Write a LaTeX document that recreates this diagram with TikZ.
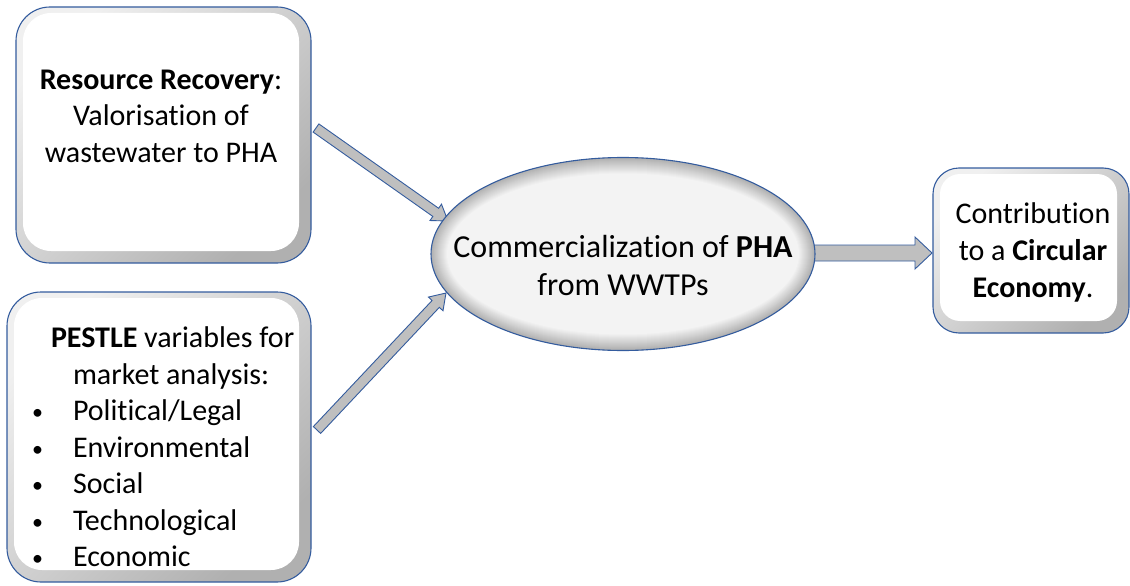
\documentclass[tikz,border=0pt]{standalone}
\usepackage{fontspec}
\setmainfont{Carlito}[Ligatures=NoCommon]
\usetikzlibrary{calc,shapes.geometric}
\definecolor{bord}{RGB}{52,92,158}
\definecolor{arrfill}{RGB}{191,191,191}
\tikzset{
  bx/.style={draw=bord, line width=1.1pt, rounded corners=#1, top color=gray!12, bottom color=gray!62, shading angle=45,
    inner sep=0pt, outer sep=0pt,
    path picture={\fill[white, rounded corners=#1-6pt]
      ($(path picture bounding box.north west)+(7pt,-6pt)$) rectangle
      ($(path picture bounding box.south east)+(-12pt,12pt)$);}},
  ell/.style={ellipse, draw=bord, line width=1.1pt, fill=gray!62, inner sep=0pt, outer sep=0pt,
    path picture={\foreach \i in {0,...,16}{%
        \pgfmathsetmacro\c{62-\i*3.3}%
        \fill[gray!\c] (path picture bounding box.center) ellipse [x radius={192pt-\i pt}, y radius={96.5pt-\i pt}];}}},
  txt/.style={inner sep=0pt, outer sep=0pt, font=\fontsize{30}{36.5}\selectfont},
  etxt/.style={inner sep=0pt, outer sep=0pt, font=\fontsize{32}{38}\selectfont},
  arrowstyle/.style={draw=bord, line width=0.9pt, fill=arrfill, line join=miter}
}
\newcommand\blockarrow[5]{%
  \draw[arrowstyle] let \p1=(#1), \p2=(#2), \n1={atan2(\y2-\y1,\x2-\x1)},
    \n2={veclen(\x2-\x1,\y2-\y1)-#5} in
    ($(\p1)+(\n1+90:#3)$) -- ($(\p1)+(\n1:\n2)+(\n1+90:#3)$) --
    ($(\p1)+(\n1:\n2)+(\n1+90:#4)$) -- (\p2) --
    ($(\p1)+(\n1:\n2)+(\n1-90:#4)$) -- ($(\p1)+(\n1:\n2)+(\n1-90:#3)$) --
    ($(\p1)+(\n1-90:#3)$) -- cycle;}
\newcommand\bul{\makebox[41pt][l]{\raisebox{1pt}{\fontsize{22}{22}\selectfont\textbullet}}}
\begin{document}
\begin{tikzpicture}[x=1pt,y=-1pt]
\useasboundingbox (0,0) rectangle (1130,586);
% boxes
\node[bx=34pt, minimum width=295pt, minimum height=256pt, anchor=north west] (b1) at (16,7) {};
\node[bx=34pt, minimum width=304pt, minimum height=290pt, anchor=north west] (b2) at (7,292) {};
\node[bx=26pt, minimum width=196pt, minimum height=165pt, anchor=north west] (b3) at (933,168) {};
% arrows
\coordinate (a1s) at (316,128);
\coordinate (a1e) at (448,221);
\coordinate (a2s) at (317,430);
\coordinate (a2e) at (446,293);
\coordinate (a3s) at (805,253);
\coordinate (a3e) at (932,253);
\blockarrow{a1s}{a1e}{5pt}{10pt}{15pt}
\blockarrow{a2s}{a2e}{5pt}{10pt}{15pt}
\blockarrow{a3s}{a3e}{8pt}{16pt}{17pt}
% ellipse
\node[ell, minimum width=384pt, minimum height=193pt] (e) at (623,254) {};
% texts
\node[txt, align=center] (t1) at (161,116) {\textbf{Resource Recovery}:\\Valorisation of\\wastewater to PHA};
\node[etxt, align=center] (te) at (623,266) {Commercialization of \textbf{PHA}\\from WWTPs};
\node[txt, align=center, font=\fontsize{30}{37}\selectfont] (t3) at (1033,252) {Contribution\\to a \textbf{Circular}\\\textbf{Economy}.};
\node[txt, align=left, anchor=north west] (t2) at (32,327) {%
  \hspace*{19pt}\textbf{PESTLE} variables for\\
  \hspace*{41pt}market analysis:\\
  \bul Political/Legal\\
  \bul Environmental\\
  \bul Social\\
  \bul Technological\\
  \bul Economic};
\end{tikzpicture}
\end{document}
